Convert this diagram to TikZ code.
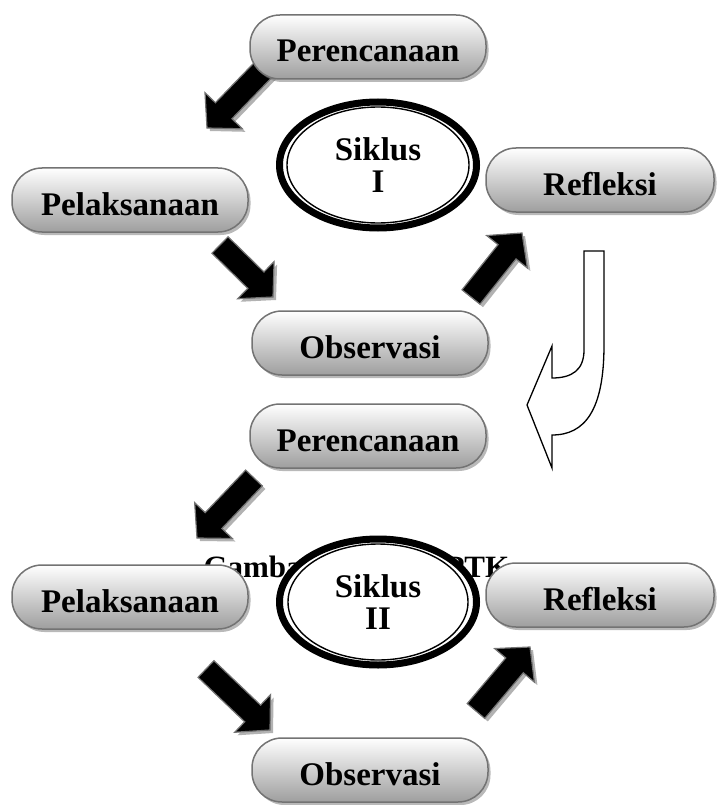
\documentclass[tikz,border=0pt]{standalone}
\usepackage{fontspec}
\setmainfont{Liberation Serif}
\usetikzlibrary{calc,shadows,shapes.geometric}

\newcommand{\panah}[2]{%
  \coordinate (pk) at ($(#2)!24pt!(#1)$);
  \path[panahblok] ($(#1)!11.5pt!90:(#2)$) -- ($(pk)!11.5pt!90:(#2)$)
    -- ($(pk)!26pt!90:(#2)$) -- (#2) -- ($(pk)!26pt!-90:(#2)$)
    -- ($(pk)!11.5pt!-90:(#2)$) -- ($(#1)!11.5pt!-90:(#2)$) -- cycle;}

\begin{document}
\begin{tikzpicture}[
x=1pt,y=-1pt,
tahap/.style={
  draw=black!55,
  line width=1.5pt,
  rounded corners=30pt,
  top color=white,
  bottom color=black!38,
  minimum width=236pt,
  minimum height=64pt,
  text height=30pt,
  text depth=0pt,
  font=\bfseries\fontsize{33}{33}\selectfont,
  drop shadow={shadow xshift=2.5pt,shadow yshift=-3pt,fill=black!55}
},
siklus/.style={
  ellipse,
  draw,
  line width=7pt,
  fill=white,
  inner sep=0pt,
  minimum width=197pt,
  minimum height=126pt,
  align=center,
  font=\bfseries\fontsize{33}{32}\selectfont
},
panahblok/.style={
  fill=black,
  draw=black!55,
  line width=1.2pt,
  drop shadow={shadow xshift=3pt,shadow yshift=-3pt,fill=black!60}
}
]
\useasboundingbox (0,0) rectangle (716,805);

\node[anchor=base west,font=\bfseries\fontsize{31}{31}\selectfont]
  (judul) at (200,577) {Gambar 1. Siklus PTK};

\coordinate (a1) at (265,68);
\coordinate (b1) at (207,128);
\coordinate (a2) at (220,245);
\coordinate (b2) at (273,297);
\coordinate (a3) at (471,297);
\coordinate (b3) at (522,233);
\coordinate (a4) at (254,478);
\coordinate (b4) at (197,538);
\coordinate (a5) at (206,669);
\coordinate (b5) at (270,730);
\coordinate (a6) at (476,711);
\coordinate (b6) at (530,647);
\panah{a1}{b1}
\panah{a2}{b2}
\panah{a3}{b3}
\panah{a4}{b4}
\panah{a5}{b5}
\panah{a6}{b6}

\draw[fill=white,line width=1.3pt] (584,251) -- (604,251) -- (604,345)
  .. controls (604,410) and (585,435) .. (552,435) -- (552,468)
  -- (527,405) -- (552,346) -- (552,378)
  .. controls (572,378) and (584,370) .. (584,350) -- cycle;

\node[tahap] (per1) at (368,47) {Perencanaan};
\node[tahap] (pel1) at (130,200) {Pelaksanaan};
\node[tahap,minimum width=228pt] (ref1) at (600,180) {Refleksi};
\node[tahap] (obs1) at (370,343) {Observasi};
\node[siklus] (sik1) at (378,165) {Siklus\\I};
\draw[line width=1.4pt] (sik1.center) ellipse (91 and 58);

\node[tahap] (per2) at (368,436) {Perencanaan};
\node[tahap] (pel2) at (130,597) {Pelaksanaan};
\node[tahap,minimum width=228pt] (ref2) at (600,595) {Refleksi};
\node[tahap] (obs2) at (370,770) {Observasi};
\node[siklus] (sik2) at (378,602) {Siklus\\II};
\draw[line width=1.4pt] (sik2.center) ellipse (90 and 58);
\end{tikzpicture}
\end{document}
